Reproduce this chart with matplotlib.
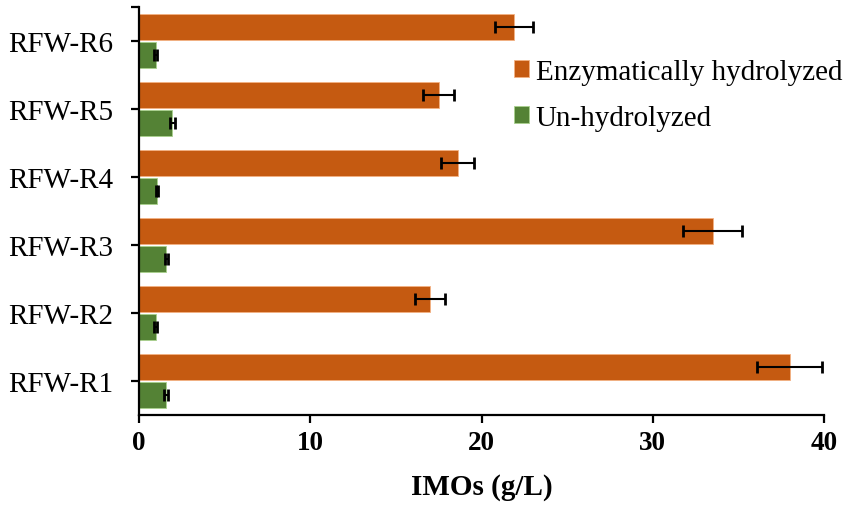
import numpy as np
import matplotlib
matplotlib.use("Agg")
import matplotlib.pyplot as plt

plt.rcParams['font.family'] = ['Liberation Serif', 'DejaVu Serif']

categories = ['RFW-R1', 'RFW-R2', 'RFW-R3', 'RFW-R4', 'RFW-R5', 'RFW-R6']
hydrolyzed = [38.0, 17.0, 33.5, 18.6, 17.5, 21.9]
hydrolyzed_err = [1.9, 0.86, 1.72, 0.97, 0.9, 1.1]
unhydrolyzed = [1.6, 0.97, 1.6, 1.05, 1.95, 0.97]
unhydrolyzed_err = [0.12, 0.08, 0.1, 0.08, 0.13, 0.08]

orange = '#C55A11'
green = '#548235'

fig = plt.figure(figsize=(8.51, 5.10), dpi=100)
ax = fig.add_axes([139 / 851, 1 - 416 / 510, 685 / 851, (416 - 8.3) / 510])

y = np.arange(len(categories))
off = 0.205
h = 0.38
err_kw = dict(ecolor='black', elinewidth=1.5, capsize=4.2, capthick=2)

ax.barh(y + off, hydrolyzed, height=h, color=orange, edgecolor='#F4B183',
        linewidth=0.6, xerr=hydrolyzed_err, error_kw=err_kw,
        label='Enzymatically hydrolyzed')
ax.barh(y - off, unhydrolyzed, height=h, color=green, edgecolor='#A9D18E',
        linewidth=0.6, xerr=unhydrolyzed_err, error_kw=err_kw,
        label='Un-hydrolyzed')

ax.set_xlim(0, 40)
ax.set_ylim(-0.5, 5.5)
ax.set_xticks([0, 10, 20, 30, 40])
ax.set_yticks(y)
ax.set_yticks([5.5], minor=True)
ax.set_yticklabels(categories, fontsize=21)
for lab in ax.get_xticklabels():
    lab.set_fontweight('bold')
    lab.set_fontsize(19.5)

for s in ['top', 'right']:
    ax.spines[s].set_visible(False)
for s in ['left', 'bottom']:
    ax.spines[s].set_linewidth(1.6)

ax.tick_params(axis='both', which='both', direction='out', length=5.5, width=1.6)
ax.tick_params(axis='y', which='major', pad=13)
ax.tick_params(axis='x', pad=5)

ax.set_xlabel('IMOs (g/L)', fontsize=21, fontweight='bold', labelpad=13)

handles, labels = ax.get_legend_handles_labels()
fig.legend(handles, labels, loc='upper left', bbox_to_anchor=(514 / 851, 1 - 60 / 510),
           frameon=False, fontsize=21, handlelength=0.5, handleheight=0.5,
           handletextpad=0.25, labelspacing=0.68, borderpad=0, borderaxespad=0)

fig.savefig('out.png', dpi=100)
